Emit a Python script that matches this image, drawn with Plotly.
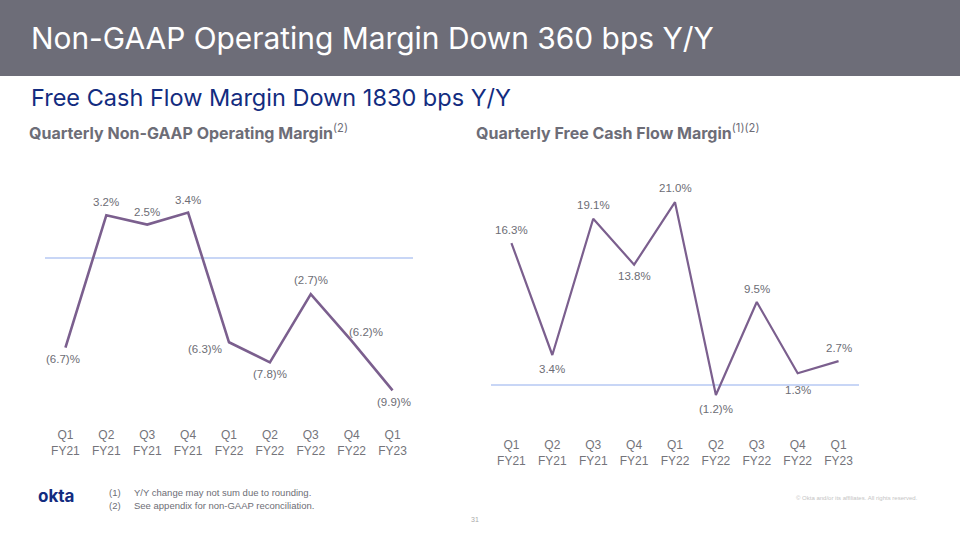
import plotly.graph_objects as go

quarters = ["Q1<br>FY21", "Q2<br>FY21", "Q3<br>FY21", "Q4<br>FY21", "Q1<br>FY22",
            "Q2<br>FY22", "Q3<br>FY22", "Q4<br>FY22", "Q1<br>FY23"]
op_margin = [-6.7, 3.2, 2.5, 3.4, -6.3, -7.8, -2.7, -6.2, -9.9]
fcf_margin = [16.3, 3.4, 19.1, 13.8, 21.0, -1.2, 9.5, 1.3, 2.7]
# label placement (xshift, yshift) in pixels per point
op_shift = [(-2, -11), (0, 13), (0, 13), (0, 13), (-24, -7), (0, -12), (0, 14), (14, 9), (1, -12)]
fcf_shift = [(0, 13), (0, -14), (0, 14), (0, -11), (0, 14), (0, -14), (0, 13), (0, -17), (0, 13)]

LINE = "#7b5f8e"
ZERO = "#c8d6f6"
LBL = "#6d6d75"
FONT = "Liberation Sans"

def fmt(v):
    return f"({abs(v):.1f})%" if v < 0 else f"{v:.1f}%"

fig = go.Figure()
xi = list(range(len(quarters)))
fig.add_trace(go.Scatter(x=xi, y=op_margin, mode="lines", line=dict(color=LINE, width=2.6),
                         xaxis="x", yaxis="y", hoverinfo="skip"))
fig.add_trace(go.Scatter(x=xi, y=fcf_margin, mode="lines", line=dict(color=LINE, width=2.2),
                         xaxis="x2", yaxis="y2", hoverinfo="skip"))

annotations = []
for i, v in enumerate(op_margin):
    annotations.append(dict(x=i, y=v, xref="x", yref="y", text=fmt(v), showarrow=False,
                            xshift=op_shift[i][0], yshift=op_shift[i][1],
                            font=dict(family=FONT, size=11.5, color=LBL)))
for i, v in enumerate(fcf_margin):
    annotations.append(dict(x=i, y=v, xref="x2", yref="y2", text=fmt(v), showarrow=False,
                            xshift=fcf_shift[i][0], yshift=fcf_shift[i][1],
                            font=dict(family=FONT, size=11.5, color=LBL)))

def P(px, py):
    return px / 960, 1 - py / 540

# header texts
x0, y0 = P(29, 38)
annotations.append(dict(x=x0, y=y0, xref="paper", yref="paper", xanchor="left", yanchor="middle",
                        text="Non-GAAP Operating Margin Down 360 bps Y/Y", showarrow=False,
                        font=dict(family="Inter", size=29.9, color="white")))
x0, y0 = P(29, 98)
annotations.append(dict(x=x0, y=y0, xref="paper", yref="paper", xanchor="left", yanchor="middle",
                        text="Free Cash Flow Margin Down 1830 bps Y/Y", showarrow=False,
                        font=dict(family="Inter", size=23.5, color="#132c80")))
x0, y0 = P(27, 132)
annotations.append(dict(x=x0, y=y0, xref="paper", yref="paper", xanchor="left", yanchor="middle",
                        text="<b>Quarterly Non-GAAP Operating Margin</b><sup>(2)</sup>", showarrow=False,
                        font=dict(family="Inter", size=16, color="#6d6d77")))
x0, y0 = P(474, 132)
annotations.append(dict(x=x0, y=y0, xref="paper", yref="paper", xanchor="left", yanchor="middle",
                        text="<b>Quarterly Free Cash Flow Margin</b><sup>(1)(2)</sup>", showarrow=False,
                        font=dict(family="Inter", size=16, color="#6d6d77")))
# footer
x0, y0 = P(36, 496)
annotations.append(dict(x=x0, y=y0, xref="paper", yref="paper", xanchor="left", yanchor="middle",
                        text="<b>okta</b>", showarrow=False,
                        font=dict(family="Inter", size=17, color="#132c80")))
for ty, num, txt in [(492, "(1)", "Y/Y change may not sum due to rounding."),
                     (505, "(2)", "See appendix for non-GAAP reconciliation.")]:
    x0, y0 = P(107, ty)
    annotations.append(dict(x=x0, y=y0, xref="paper", yref="paper", xanchor="left", yanchor="middle",
                            text=num, showarrow=False, font=dict(family=FONT, size=9.5, color="#6d6d75")))
    x0, y0 = P(132, ty)
    annotations.append(dict(x=x0, y=y0, xref="paper", yref="paper", xanchor="left", yanchor="middle",
                            text=txt, showarrow=False, font=dict(family=FONT, size=9.5, color="#6d6d75")))
x0, y0 = P(475, 519)
annotations.append(dict(x=x0, y=y0, xref="paper", yref="paper", xanchor="center", yanchor="middle",
                        text="31", showarrow=False, font=dict(family=FONT, size=7, color="#aaaaaa")))
x0, y0 = P(920, 498)
annotations.append(dict(x=x0, y=y0, xref="paper", yref="paper", xanchor="right", yanchor="middle",
                        text="© Okta and/or its affiliates. All rights reserved.", showarrow=False,
                        font=dict(family=FONT, size=6, color="#c4c4c4")))

shapes = [dict(type="rect", xref="paper", yref="paper", x0=0, x1=1, y0=1 - 76 / 540, y1=1,
               fillcolor="#6d6d78", line=dict(width=0), layer="below")]

tickfont = dict(family=FONT, size=12, color="#74747a")
fig.update_layout(
    width=960, height=540, margin=dict(l=0, r=0, t=0, b=0),
    paper_bgcolor="white", plot_bgcolor="white", showlegend=False,
    annotations=annotations, shapes=shapes,
    xaxis=dict(domain=[45 / 960, 413 / 960], range=[-0.5, 8.5], tickmode="array",
               tickvals=xi, ticktext=quarters, showgrid=False, zeroline=False, showline=False,
               ticks="", tickfont=tickfont, anchor="y", fixedrange=True),
    yaxis=dict(domain=[1 - 426 / 540, 1 - 170 / 540], range=[-12.56, 6.58], showticklabels=False,
               showgrid=False, zeroline=True, zerolinecolor=ZERO, zerolinewidth=1.5,
               anchor="x", fixedrange=True),
    xaxis2=dict(domain=[491 / 960, 859 / 960], range=[-0.5, 8.5], tickmode="array",
                tickvals=xi, ticktext=quarters, showgrid=False, zeroline=False, showline=False,
                ticks="", tickfont=tickfont, anchor="y2", fixedrange=True),
    yaxis2=dict(domain=[1 - 436 / 540, 1 - 170 / 540], range=[-5.93, 24.71], showticklabels=False,
                showgrid=False, zeroline=True, zerolinecolor=ZERO, zerolinewidth=1.5,
                anchor="x2", fixedrange=True),
)

fig.write_html("out.html")
